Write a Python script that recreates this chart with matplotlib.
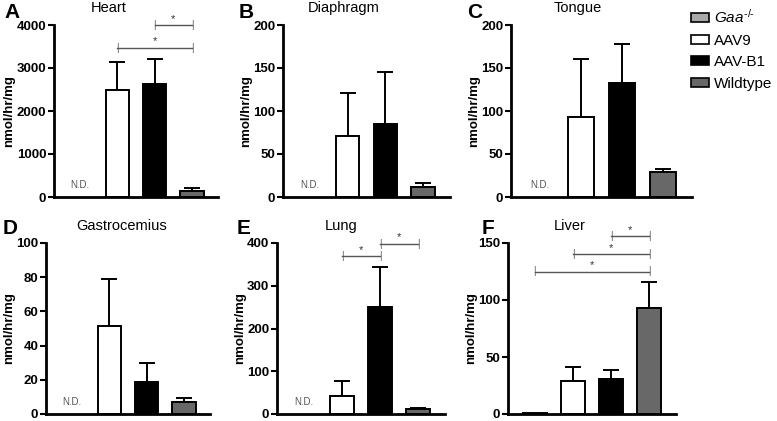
import numpy as np
import matplotlib
matplotlib.use("Agg")
from matplotlib import pyplot as plt
from matplotlib.patches import Patch

plt.rcParams['font.family'] = ['Liberation Sans', 'DejaVu Sans']
plt.rcParams['mathtext.fontset'] = 'custom'
plt.rcParams['mathtext.rm'] = 'Liberation Sans'
plt.rcParams['mathtext.it'] = 'Liberation Sans:italic'

# groups and colours
groups = [r"$\mathit{Gaa}^{\text{-/-}}$", "AAV9", "AAV-B1", "Wildtype"]
colors = ["#a8a8a8", "white", "black", "#686868"]

# means / upper SEM per tissue (nan = N.D.)
nd = np.nan
heart = [nd, 2480, 2630, 140]
heart_err = [nd, 650, 590, 65]
diaphragm = [nd, 71, 85, 12]
diaphragm_err = [nd, 50, 60, 4]
tongue = [nd, 93, 132, 29]
tongue_err = [nd, 67, 46, 4]
gastro = [nd, 51.5, 19, 7.2]
gastro_err = [nd, 27.5, 11, 2.4]
lung = [nd, 43, 251, 12]
lung_err = [nd, 35, 94, 3]
liver = [0.5, 29, 31, 93]
liver_err = [0, 12.5, 7.5, 23]

# significance brackets: (from group, to group, height)
heart_sig = [(2, 3, 4000), (1, 3, 3470)]
lung_sig = [(1, 2, 369), (2, 3, 398)]
liver_sig = [(2, 3, 156), (1, 3, 140), (0, 3, 125)]

panels = [
    ("Heart", heart, heart_err, heart_sig, 4000, 1000, (54, 218, 25, 197), 0.335),
    ("Diaphragm", diaphragm, diaphragm_err, [], 200, 50, (283, 450, 25, 197), 0.365),
    ("Tongue", tongue, tongue_err, [], 200, 50, (511, 692, 25, 197), 0.37),
    ("Gastrocemius", gastro, gastro_err, [], 100, 20, (46, 210, 243, 414), 0.46),
    ("Lung", lung, lung_err, lung_sig, 400, 100, (277, 445, 243, 414), 0.38),
    ("Liver", liver, liver_err, liver_sig, 150, 50, (508, 676, 243, 414), 0.37),
]

W, H = 777, 421
fig = plt.figure(figsize=(W / 100, H / 100), dpi=100)

for title, vals, errs, sigs, ymax, step, (x0, x1, y0, y1), tx in panels:
    ax = fig.add_axes([x0 / W, 1 - y1 / H, (x1 - x0) / W, (y1 - y0) / H])
    x = np.arange(len(groups))
    for i in range(len(groups)):
        if np.isnan(vals[i]):
            ax.annotate("N.D.", (i, 0), xytext=(0, 5), textcoords="offset points",
                        ha="center", va="bottom", fontsize=7, color="#555555")
            continue
        ax.bar(x[i], vals[i], width=0.63, color=colors[i], edgecolor="black",
               linewidth=1.4, zorder=2)
        if errs[i] > 0:
            ax.errorbar(x[i], vals[i], yerr=[[0], [errs[i]]], fmt="none",
                        ecolor="black", elinewidth=1.4, capsize=5.5, capthick=1.4,
                        zorder=1)
    for a, b, h in sigs:
        ax.plot([a, b], [h, h], color="#555555", lw=1, clip_on=False)
        for xx in (a, b):
            ax.annotate("|", (xx, h), ha="center", va="center", fontsize=7,
                        color="#555555", annotation_clip=False)
        ax.annotate("*", ((a + b) / 2, h), xytext=(0, 1), textcoords="offset points",
                    ha="center", va="bottom", fontsize=8, color="#333333",
                    annotation_clip=False)
    ax.set_xlim(-0.7, 3.7)
    ax.set_ylim(0, ymax)
    ax.set_yticks(np.arange(0, ymax + 1, step))
    ax.set_xticks([])
    for s in ("top", "right"):
        ax.spines[s].set_visible(False)
    for s in ("left", "bottom"):
        ax.spines[s].set_linewidth(2)
    ax.tick_params(axis="y", length=4.5, width=1.5, pad=1, labelsize=9.5)
    for lab in ax.get_yticklabels():
        lab.set_fontweight("bold")
    ax.set_ylabel("nmol/hr/mg", fontsize=9.5, fontweight="bold", labelpad=1)
    ax.text(tx, 1.1, title, transform=ax.transAxes, ha="center", va="center",
            fontsize=10.5)

# panel letters
letters = [("A", 12, 12), ("B", 246, 12), ("C", 475, 12),
           ("D", 10, 228), ("E", 244, 228), ("F", 488, 228)]
for l, px, py in letters:
    fig.text(px / W, 1 - py / H, l, fontsize=15, fontweight="bold",
             ha="center", va="center")

handles = [Patch(facecolor=c, edgecolor="black", linewidth=1.2) for c in colors]
fig.legend(handles, groups, loc="upper left", bbox_to_anchor=(691 / W, 1 - 8 / H),
           frameon=False, fontsize=11, handlelength=1.15, handleheight=0.55,
           handletextpad=0.35, labelspacing=0.5, borderpad=0, borderaxespad=0)

fig.savefig("out.png", dpi=100)
